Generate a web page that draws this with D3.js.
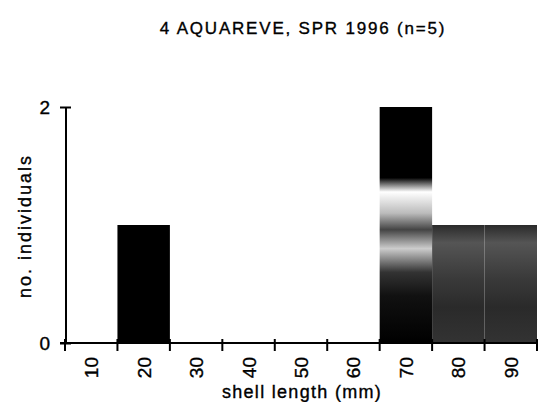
<!DOCTYPE html>
<html><head><meta charset="utf-8">
<script src="https://cdn.jsdelivr.net/npm/d3@7"></script>
<style>body{margin:0;background:#fff}svg{display:block}text{font-family:"Liberation Sans",Arial,sans-serif;fill:#000;stroke:#000;stroke-width:0.35px}</style>
</head><body><svg id="c" width="540" height="402"></svg>
<script>
const categories = ["10","20","30","40","50","60","70","80","90"];
const counts = [0,1,0,0,0,0,2,1,1];
const yTicks = [0,2];
const title = "4 AQUAREVE, SPR 1996 (n=5)";
const xLabel = "shell length (mm)";
const yLabel = "no. individuals";

const svg = d3.select("#c");
const x = d3.scaleBand().domain(categories).range([65,537]).padding(0);
const y = d3.scaleLinear().domain([0,2]).range([343,107]);

const defs = svg.append("defs");
const g70 = defs.append("linearGradient").attr("id","g70").attr("x1",0).attr("y1",0).attr("x2",0).attr("y2",1);
[[0,"#000"],[0.3,"#000"],[0.36,"#fff"],[0.45,"#bbb"],[0.52,"#444"],[0.6,"#ccc"],[0.7,"#333"],[0.8,"#111"],[1,"#000"]]
  .forEach(([o,c])=>g70.append("stop").attr("offset",o).attr("stop-color",c));
const gR = defs.append("linearGradient").attr("id","gR").attr("x1",0).attr("y1",0).attr("x2",0).attr("y2",1);
[[0,"#2a2a2a"],[0.15,"#555"],[0.45,"#3a3a3a"],[0.7,"#2a2a2a"],[1,"#333"]]
  .forEach(([o,c])=>gR.append("stop").attr("offset",o).attr("stop-color",c));

svg.selectAll("rect.bar").data(categories.map((c,i)=>({c,v:counts[i]})).filter(d=>d.v>0))
  .join("rect").attr("class","bar")
  .attr("x",d=>x(d.c)).attr("width",x.bandwidth())
  .attr("y",d=>y(d.v)).attr("height",d=>y(0)-y(d.v))
  .attr("fill",d=>d.c==="70"?"url(#g70)":(d.c==="80"||d.c==="90")?"url(#gR)":"#000");

// y axis
const ya = svg.append("g").attr("transform","translate(66,0)")
  .call(d3.axisLeft(y).tickValues(yTicks).tickSize(6).tickFormat(d3.format("d")));
ya.select(".domain").remove();
ya.selectAll(".tick line").attr("x2",-6).attr("x1",5).attr("stroke","#000").attr("stroke-width",2);
ya.selectAll(".tick text").attr("x",-16).attr("font-size",19).attr("dy","0.33em");
svg.append("line").attr("x1",66).attr("x2",66).attr("y1",y(2)).attr("y2",y(0)).attr("stroke","#000").attr("stroke-width",2);

// x axis
const edges = categories.map(c=>x(c)).concat([x(categories[categories.length-1])+x.bandwidth()]);
svg.append("line").attr("x1",60).attr("x2",537).attr("y1",343).attr("y2",343).attr("stroke","#000").attr("stroke-width",2);
svg.selectAll("line.xt").data(edges).join("line").attr("class","xt")
  .attr("x1",d=>d).attr("x2",d=>d).attr("y1",339).attr("y2",351).attr("stroke","#000").attr("stroke-width",2);
svg.selectAll("text.xl").data(categories).join("text").attr("class","xl")
  .attr("transform",d=>`translate(${x(d)+x.bandwidth()/2+7},357) rotate(-90)`)
  .attr("text-anchor","end").attr("font-size",19).text(d=>d);

svg.append("text").attr("x",303).attr("y",34).attr("text-anchor","middle").attr("font-size",17).attr("letter-spacing",1.8).text(title);
svg.append("text").attr("x",302).attr("y",398).attr("text-anchor","middle").attr("font-size",18).attr("letter-spacing",1.3).text(xLabel);
svg.append("text").attr("transform","translate(31,226) rotate(-90)").attr("text-anchor","middle").attr("font-size",18).attr("letter-spacing",2).text(yLabel);
</script></body></html>
